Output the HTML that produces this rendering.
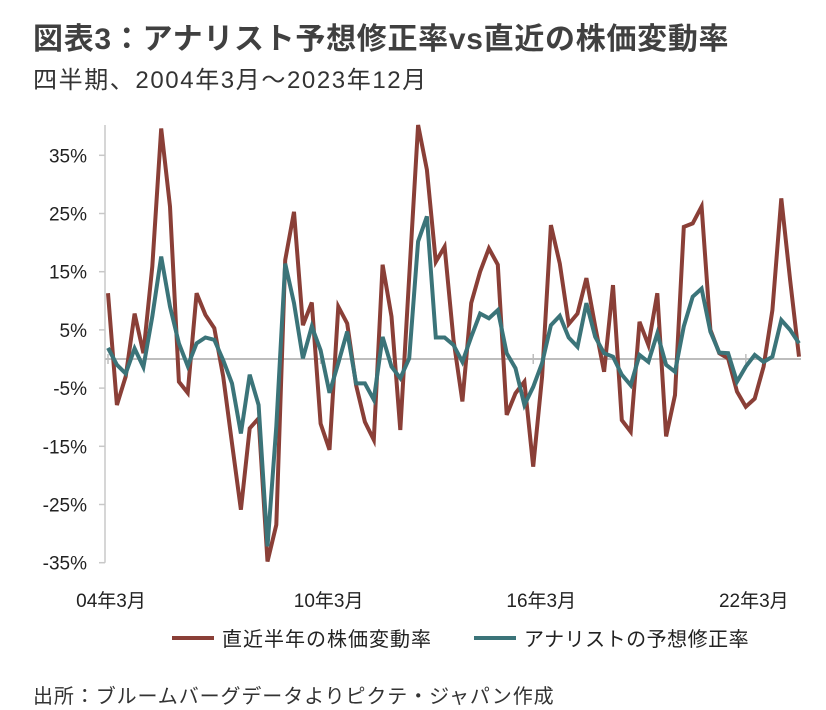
<!DOCTYPE html>
<html><head><meta charset="utf-8">
<style>
body{margin:0;background:#fff;width:826px;height:710px;overflow:hidden;font-family:"Liberation Sans","Noto Sans CJK JP",sans-serif;color:#333}
#title{position:absolute;left:33px;top:14px;font-size:30px;font-weight:bold;color:#404040;letter-spacing:0.7px;white-space:nowrap}
#sub{position:absolute;left:33px;top:60px;font-size:24px;color:#333;letter-spacing:1.6px;white-space:nowrap}
#src{position:absolute;left:33px;top:680px;font-size:20px;color:#333;letter-spacing:0.9px;white-space:nowrap}
svg{position:absolute;left:0;top:0}
.tick{font-family:"Liberation Sans Narrow","Liberation Sans","Noto Sans CJK JP",sans-serif;font-size:19px;fill:#222}
</style></head><body>
<div id="title">図表3：アナリスト予想修正率vs直近の株価変動率</div>
<div id="sub">四半期、2004年3月～2023年12月</div>
<svg id="chart" width="826" height="710"></svg>
<div id="src">出所：ブルームバーグデータよりピクテ・ジャパン作成</div>
<script>
const yTicks=[35,25,15,5,-5,-15,-25,-35];
const xLabels=["04年3月","10年3月","16年3月","22年3月"];
const xLabelIdx=[0,24,48,72];
const stockChange=[11.3,-7.9,-3.0,7.8,1.0,15.9,39.6,26.2,-3.9,-5.8,11.3,7.6,5.3,-3.0,-14.5,-25.9,-11.9,-10.2,-34.8,-28.5,17.0,25.3,5.8,9.7,-11.1,-15.6,9.0,6.1,-4.5,-10.8,-13.9,16.2,7.3,-12.2,14.1,40.2,32.5,16.7,19.3,3.3,-7.3,9.6,15.0,19.0,16.2,-9.6,-5.9,-3.9,-18.5,-3.0,23.0,16.4,6.0,7.8,13.9,5.6,-2.2,12.7,-10.5,-12.5,6.4,2.4,11.3,-13.3,-6.2,22.7,23.3,26.2,5.0,1.0,0.1,-5.6,-8.2,-6.8,-1.3,8.4,27.6,13.6,0.4];
const revision=[1.9,-1.0,-2.5,1.8,-1.4,7.3,17.6,9.0,2.7,-1.2,2.7,3.7,3.3,-0.2,-4.2,-12.8,-2.7,-7.9,-32.2,-11.6,16.4,9.6,0.1,5.6,1.5,-5.8,-0.7,4.7,-4.2,-4.2,-7.0,3.8,-1.3,-3.3,0.1,20.2,24.5,3.7,3.7,2.4,-0.5,3.8,7.8,7.0,8.4,1.0,-1.6,-7.9,-4.8,-0.7,5.8,7.4,3.7,2.1,9.6,3.8,1.0,0.4,-2.7,-4.5,0.7,-0.5,4.4,-1.0,-2.2,5.6,10.7,12.1,4.7,1.1,1.0,-3.9,-1.3,0.7,-0.5,0.4,6.7,5.0,2.7];
const NS="http://www.w3.org/2000/svg";
const svg=document.getElementById('chart');
const x0=108,x1=799,yZero=359,pxPer=5.82;
const n=stockChange.length;
function xs(i){return x0+i*(x1-x0)/(n-1);}
function ys(v){return yZero-v*pxPer;}
function mk(t,a){const e=document.createElementNS(NS,t);for(const k in a)e.setAttribute(k,a[k]);svg.appendChild(e);return e;}
let e=mk('line',{x1:105,x2:105,y1:125,y2:ys(-35),stroke:'#c8c8c8','stroke-width':1.5});


yTicks.forEach(v=>{
 let t=mk('line',{x1:99,x2:105,y1:ys(v),y2:ys(v),stroke:'#c8c8c8','stroke-width':1.5});
 
 
 let l=mk('text',{x:87,y:ys(v)+7,'text-anchor':'end',class:'tick'});
 l.textContent=v+'%';
 
 
});
e=mk('line',{x1:105,x2:801,y1:yZero,y2:yZero,stroke:'#bdbdbd','stroke-width':2});


xLabels.forEach((s,k)=>{
 const x=xs(xLabelIdx[k]);
 let t=mk('line',{x1:x,x2:x,y1:yZero-5,y2:yZero+5,stroke:'#bdbdbd','stroke-width':1.5});
 
 
 let l=mk('text',{x:k==0?x+3:x+8,y:607,'text-anchor':'middle',class:'tick'});
 l.textContent=s;
 
 
});
function series(arr,col,name){
 const p=mk('polyline',{points:arr.map((v,i)=>xs(i).toFixed(1)+','+ys(v).toFixed(1)).join(' '),fill:'none',stroke:col,'stroke-width':4,'stroke-linejoin':'miter'});
 
 
}
series(stockChange,'#8a3f37','stock-change-line');
series(revision,'#3b7479','revision-line');
e=mk('line',{x1:172,x2:214,y1:638,y2:638,stroke:'#8a3f37','stroke-width':4});


e=mk('text',{x:222,y:646,'font-size':20,fill:'#222','letter-spacing':1});
e.textContent='直近半年の株価変動率';


e=mk('line',{x1:474,x2:516,y1:638,y2:638,stroke:'#3b7479','stroke-width':4});


e=mk('text',{x:524,y:646,'font-size':20,fill:'#222','letter-spacing':0.5});
e.textContent='アナリストの予想修正率';


</script>
</body></html>
